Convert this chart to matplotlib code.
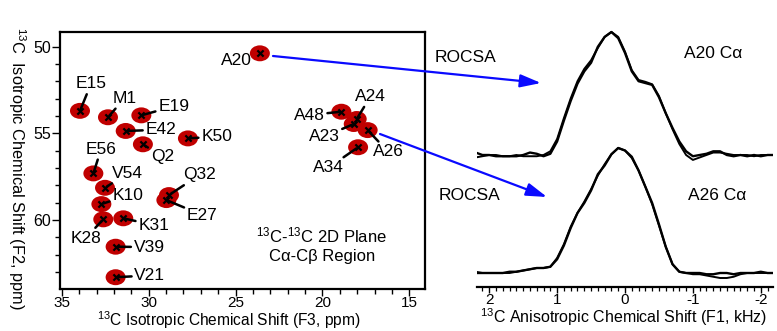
import matplotlib
matplotlib.use('Agg')
import matplotlib.pyplot as plt
from matplotlib.patches import Ellipse, FancyArrowPatch
from matplotlib.ticker import MultipleLocator, FixedLocator

plt.rcParams['font.family'] = ['Liberation Sans', 'DejaVu Sans']
plt.rcParams['mathtext.fontset'] = 'custom'
plt.rcParams['mathtext.rm'] = 'Liberation Sans'
plt.rcParams['mathtext.it'] = 'Liberation Sans:italic'
plt.rcParams['mathtext.default'] = 'regular'
plt.rcParams['axes.unicode_minus'] = False

# ---------------- data: 2D plane peaks ----------------
peak_names = ['A20', 'E15', 'M1', 'E19', 'E42', 'Q2', 'K50', 'E56', 'V54', 'K10',
              'K28', 'K31', 'V39', 'V21', 'Q32', 'E27', 'A48', 'A24', 'A23', 'A26', 'A34']
peak_f3 = [23.6, 33.95, 32.34, 30.42, 31.32, 30.33, 27.74, 33.18, 32.51, 32.72,
           32.61, 31.46, 31.9, 31.9, 28.83, 28.98, 18.91, 18.03, 18.2, 17.4, 17.95]
peak_f2 = [50.38, 53.7, 54.07, 53.96, 54.86, 55.63, 55.29, 57.31, 58.14, 59.08,
           59.96, 59.9, 61.54, 63.3, 58.56, 58.85, 53.75, 54.17, 54.46, 54.81, 55.8]
label_f3 = [24.95, 33.32, 31.39, 28.56, 29.3, 29.22, 26.09, 32.74, 31.21, 31.21,
            33.62, 29.71, 29.97, 29.93, 27.08, 26.92, 20.76, 17.24, 19.91, 16.22, 19.64]
label_f2 = [50.81, 52.15, 52.98, 53.44, 54.79, 56.35, 55.19, 55.92, 57.29, 58.59,
            61.04, 60.29, 61.56, 63.2, 57.4, 59.71, 53.94, 52.88, 55.19, 56.06, 56.97]

x_ticks_ppm = [35, 30, 25, 20, 15]
y_ticks_ppm = [50, 55, 60]

# ---------------- data: ROCSA line shapes ----------------
freq_khz = [2.2, 2.1, 2.0, 1.9, 1.8, 1.7, 1.6, 1.5, 1.4, 1.3, 1.2, 1.1, 1.0, 0.9, 0.8,
            0.7, 0.6, 0.5, 0.4, 0.3, 0.2, 0.1, 0.0, -0.1, -0.2, -0.3, -0.4, -0.5, -0.6,
            -0.7, -0.8, -0.9, -1.0, -1.1, -1.2, -1.3, -1.4, -1.5, -1.6, -1.7, -1.8,
            -1.9, -2.0, -2.1, -2.2]
a20_exp = [0.02, 0.0, 0.0, -0.01, -0.01, -0.01, -0.01, 0.0, 0.02, 0.01, -0.01, 0.01,
           0.11, 0.28, 0.44, 0.58, 0.68, 0.75, 0.88, 0.96, 1.0, 0.95, 0.83, 0.68, 0.60,
           0.585, 0.57, 0.47, 0.34, 0.22, 0.11, 0.03, -0.01, 0.0, 0.01, 0.03, 0.03, 0.0,
           -0.01, 0.0, -0.01, 0.0, -0.01, 0.0, 0.0]
a20_sim = [-0.02, -0.01, 0.0, 0.0, -0.01, -0.01, 0.0, -0.01, -0.01, -0.01, 0.0, 0.03,
           0.13, 0.30, 0.46, 0.60, 0.70, 0.77, 0.87, 0.96, 1.0, 0.96, 0.84, 0.69, 0.61,
           0.595, 0.575, 0.48, 0.34, 0.21, 0.09, 0.0, -0.04, -0.02, 0.0, 0.02, 0.02, 0.01,
           0.0, 0.0, 0.0, -0.01, 0.0, 0.0, 0.0]
a26_exp = [0.0, 0.0, 0.0, 0.0, 0.0, 0.01, 0.01, 0.02, 0.03, 0.04, 0.04, 0.05,
           0.11, 0.22, 0.36, 0.48, 0.56, 0.66, 0.79, 0.86, 0.95, 1.0, 0.98, 0.93, 0.82,
           0.69, 0.56, 0.39, 0.21, 0.07, 0.01, 0.0, 0.0, 0.0, -0.01, -0.01, 0.0, 0.0,
           -0.01, 0.0, 0.0, 0.0, 0.01, 0.0, 0.0]
a26_sim = [0.01, 0.0, 0.0, 0.0, 0.0, 0.0, 0.01, 0.02, 0.03, 0.04, 0.04, 0.05,
           0.12, 0.23, 0.37, 0.48, 0.57, 0.67, 0.78, 0.87, 0.95, 1.0, 0.98, 0.92, 0.82,
           0.69, 0.55, 0.38, 0.21, 0.07, 0.01, 0.0, -0.01, -0.01, -0.02, -0.03, -0.04,
           -0.04, -0.03, -0.01, 0.0, 0.0, 0.0, 0.0, 0.0]
khz_ticks = [2, 1, 0, -1, -2]
khz_ticklabels = ['2', '1', '0', '-1', '-2']

# ---------------- figure ----------------
W, H = 777, 331
fig = plt.figure(figsize=(W / 100, H / 100), dpi=100)


def px_rect(l, t, r, b):
    return [l / W, 1 - b / H, (r - l) / W, (b - t) / H]


def fpt(x, y):
    return (x / W, 1 - y / H)


RED = '#c00000'
LBL = 12.5

# ---- left: 2D plane ----
ax = fig.add_axes(px_rect(60, 32, 425, 289))
ax.set_xlim(35.1, 14.1)
ax.set_ylim(63.98, 49.15)
for x, y in zip(peak_f3, peak_f2):
    ax.add_patch(Ellipse((x, y), 1.15, 0.92, facecolor=RED, edgecolor='none', zorder=1))
ax.scatter(peak_f3, peak_f2, marker='x', c='k', s=20, linewidths=1.6, zorder=3)
for name, x, y, lx, ly in zip(peak_names, peak_f3, peak_f2, label_f3, label_f2):
    if name == 'A20':
        ax.text(lx, ly, name, ha='center', va='center', fontsize=LBL)
    else:
        ax.annotate(name, xy=(x, y), xytext=(lx, ly), ha='center', va='center',
                    fontsize=LBL,
                    arrowprops=dict(arrowstyle='-', lw=1.8, color='k',
                                    shrinkA=0, shrinkB=1.5))
ax.text(20.04, 60.87, r'$^{13}$C-$^{13}$C 2D Plane', ha='center', va='center', fontsize=12)
ax.text(20.04, 62.08, 'C\u03b1-C\u03b2 Region', ha='center', va='center', fontsize=12)

ax.xaxis.set_major_locator(FixedLocator(x_ticks_ppm))
ax.yaxis.set_major_locator(FixedLocator(y_ticks_ppm))
ax.xaxis.set_minor_locator(MultipleLocator(1))
ax.yaxis.set_minor_locator(MultipleLocator(1))
ax.tick_params(which='major', direction='out', length=5.5, width=1, labelsize=11.5, pad=1)
ax.tick_params(axis='x', which='major', length=5, labelsize=11, pad=0.3)
ax.tick_params(which='minor', direction='out', length=3.5, width=1)
for s in ax.spines.values():
    s.set_linewidth(1.6)

fig.text(*fpt(229, 320.5), r'$^{13}$C Isotropic Chemical Shift (F3, ppm)',
         ha='center', va='center', fontsize=11.2)
fig.text(*fpt(17, 168), r'$^{13}$C  Isotropic Chemical Shift (F2, ppm)',
         ha='center', va='center', fontsize=11.8, rotation=270)

# ---- right: ROCSA line shapes ----
axr = fig.add_axes(px_rect(477, 20, 773, 287))
axr.set_xlim(2.18, -2.18)
axr.set_ylim(0, 2.136)
top_off, top_amp = 1.056, 0.984
bot_off, bot_amp = 0.112, 1.0
axr.plot(freq_khz, [top_off + top_amp * v for v in a20_exp], color='k', lw=1.7)
axr.plot(freq_khz, [top_off + top_amp * v for v in a20_sim], color='k', lw=1.4)
axr.plot(freq_khz, [bot_off + bot_amp * v for v in a26_exp], color='k', lw=1.7)
axr.plot(freq_khz, [bot_off + bot_amp * v for v in a26_sim], color='k', lw=1.4)
for side in ['left', 'right', 'top']:
    axr.spines[side].set_visible(False)
axr.spines['bottom'].set_linewidth(1.6)
axr.set_yticks([])
axr.set_xticks(khz_ticks)
axr.set_xticklabels(khz_ticklabels)
axr.xaxis.set_minor_locator(MultipleLocator(0.1))
axr.tick_params(which='major', direction='out', length=4, width=1, labelsize=11, pad=0)
axr.tick_params(which='minor', direction='out', length=3, width=0.9)

fig.text(*fpt(466, 57), 'ROCSA', ha='center', va='center', fontsize=LBL)
fig.text(*fpt(713, 53), 'A20 C\u03b1', ha='center', va='center', fontsize=LBL)
fig.text(*fpt(470, 195), 'ROCSA', ha='center', va='center', fontsize=LBL)
fig.text(*fpt(717, 195), 'A26 C\u03b1', ha='center', va='center', fontsize=LBL)
fig.text(*fpt(624, 317), r'$^{13}$C Anisotropic Chemical Shift (F1, kHz)',
         ha='center', va='center', fontsize=11.5)

# ---- blue arrows ----
for (x0, y0), (x1, y1) in [((273, 56), (541, 83)), ((380, 134), (547, 197))]:
    arr = FancyArrowPatch(posA=fpt(x0, y0), posB=fpt(x1, y1), transform=fig.transFigure,
                          arrowstyle='-|>,head_length=0.9,head_width=0.28',
                          mutation_scale=14, lw=1.6, color='#0a0aff',
                          shrinkA=0, shrinkB=0)
    fig.add_artist(arr)

fig.savefig('out.png', dpi=100)
